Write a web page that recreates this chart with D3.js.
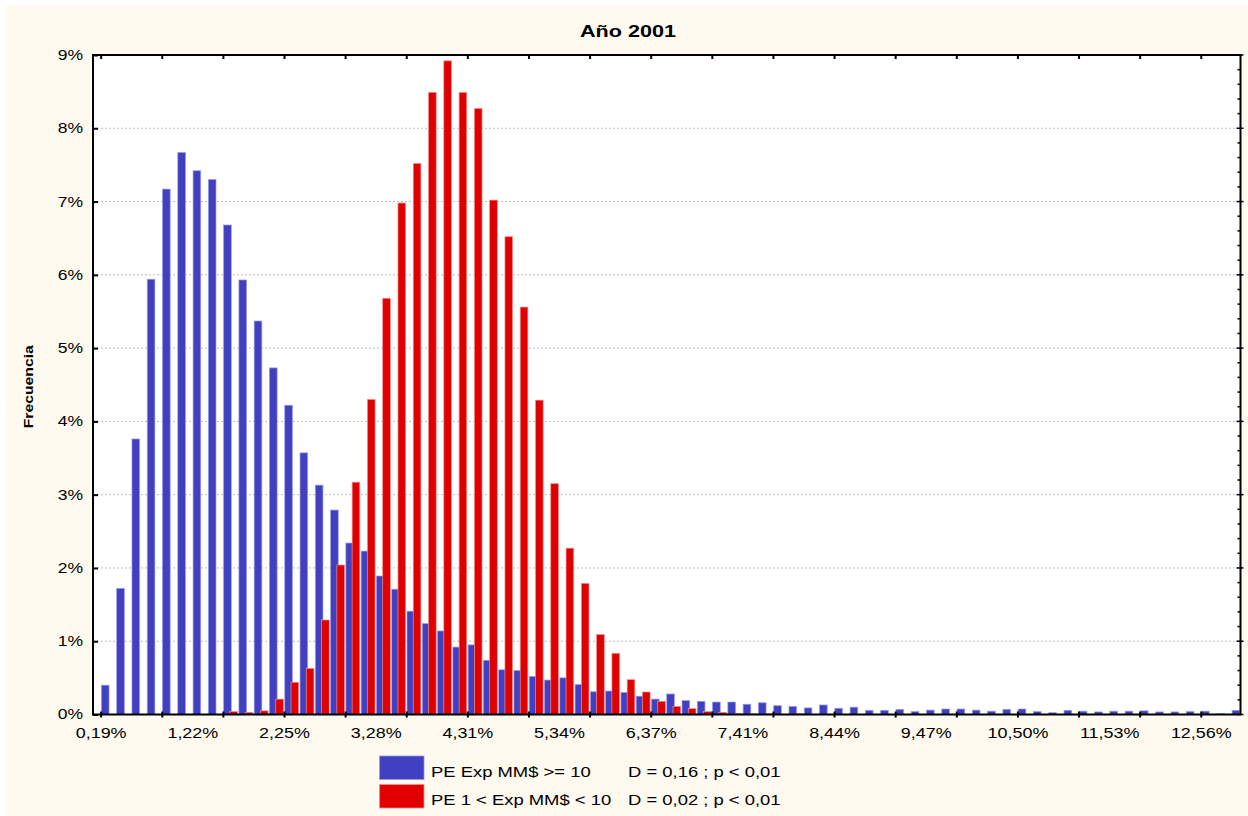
<!DOCTYPE html>
<html><head><meta charset="utf-8">
<script src="https://cdn.jsdelivr.net/npm/d3@7"></script>
<style>
html,body{margin:0;padding:0;background:#fff;}
svg{display:block;font-family:"Liberation Sans",Arial,sans-serif;}
</style></head>
<body>
<svg id="chart" width="1248" height="816"></svg>
<script>
const title = "Año 2001";
const yLabel = "Frecuencia";
const seriesNames = ["PE Exp MM$ >= 10", "PE 1 < Exp MM$ < 10"];
const seriesStats = ["D = 0,16 ; p < 0,01", "D = 0,02 ; p < 0,01"];
const xTickLabels = ["0,19%","1,22%","2,25%","3,28%","4,31%","5,34%","6,37%","7,41%","8,44%","9,47%","10,50%","11,53%","12,56%"];
const yTicks = [0,1,2,3,4,5,6,7,8,9];
// frequency (%) per bin, bins of ~0.1717% starting at 0,19%
const blueValues = [0.40,1.72,3.76,5.94,7.17,7.67,7.42,7.30,6.68,5.93,
  5.37,4.73,4.22,3.57,3.13,2.79,2.34,2.23,1.89,1.71,
  1.41,1.24,1.14,0.92,0.95,0.74,0.61,0.60,0.52,0.47,
  0.50,0.41,0.31,0.32,0.30,0.25,0.21,0.28,0.19,0.18,
  0.17,0.17,0.14,0.16,0.12,0.11,0.09,0.13,0.085,0.10,
  0.057,0.057,0.07,0.04,0.06,0.075,0.075,0.06,0.045,0.07,
  0.075,0.04,0.025,0.057,0.045,0.035,0.045,0.045,0.05,0.035,
  0.035,0.04,0.045,0.01,0.057];
const redValues = [0,0,0,0,0,0,0,0,0.04,0.03,
  0.05,0.21,0.44,0.63,1.29,2.04,3.17,4.30,5.68,6.98,
  7.52,8.49,8.92,8.49,8.27,7.02,6.52,5.56,4.29,3.15,
  2.27,1.79,1.09,0.835,0.475,0.307,0.18,0.11,0.08,0.04,
  0.03,0.015,0.01,0.01,0.005,0.01,0,0,0,0,
  0,0,0,0,0,0,0,0,0,0,
  0,0,0,0,0,0,0,0,0,0,
  0,0,0,0,0];
const colors = ["#4040c0", "#e00000"];
const strokes = ["#9a9ae6", "#f29090"];

const svg = d3.select("#chart");
svg.append("rect").attr("x",6).attr("y",6).attr("width",1242).attr("height",810).attr("fill","#fefaef");

const L = 93, R = 1240.5, T = 55, B = 714.5;
const nBins = blueValues.length;
const x = d3.scaleLinear().domain([-0.5, 74.6]).range([L, R]);
const y = d3.scaleLinear().domain([0, 9]).range([B, T]);
const bw = x(1) - x(0);

// widen text along its direction (reference glyphs are wider than Arial)
function stretch(sel, f) {
  sel.each(function(){
    const w = this.getComputedTextLength();
    d3.select(this).attr("textLength", w*f).attr("lengthAdjust","spacingAndGlyphs");
  });
}

svg.append("rect").attr("x",L).attr("y",T).attr("width",R-L).attr("height",B-T).attr("fill","#ffffff");

// grid
svg.append("g").selectAll("line").data(yTicks.filter(d=>d>0 && d<9)).join("line")
  .attr("x1",L).attr("x2",R).attr("y1",d=>y(d)).attr("y2",d=>y(d))
  .attr("stroke","#bdbdbd").attr("stroke-width",1).attr("stroke-dasharray","2,2");

svg.append("defs").append("clipPath").attr("id","clip").append("rect")
  .attr("x",L).attr("y",T).attr("width",R-L).attr("height",B-T);

const bars = svg.append("g").attr("clip-path","url(#clip)");
const idx = d3.range(nBins);
bars.append("g").selectAll("rect").data(idx.filter(i=>blueValues[i]>0)).join("rect")
  .attr("x",i=>x(i)+0.05*bw).attr("width",0.5*bw)
  .attr("y",i=>y(blueValues[i])).attr("height",i=>y(0)-y(blueValues[i]))
  .attr("fill",colors[0]).attr("stroke",strokes[0]).attr("stroke-width",0.7);
bars.append("g").selectAll("rect").data(idx.filter(i=>redValues[i]>0)).join("rect")
  .attr("x",i=>x(i)+0.46*bw).attr("width",0.5*bw)
  .attr("y",i=>y(redValues[i])).attr("height",i=>y(0)-y(redValues[i]))
  .attr("fill",colors[1]).attr("stroke",strokes[1]).attr("stroke-width",0.7);

// axes
const xTickIdx = d3.range(0, nBins, 4);
const xLabelIdx = xTickLabels.map((d,i)=>i*6);
const fmtX = i => xTickLabels[i/6];

const bottomAxis = svg.append("g").attr("transform",`translate(0,${B})`)
  .call(d3.axisBottom(x).tickValues(xTickIdx).tickSize(3).tickFormat(""));
const topAxis = svg.append("g").attr("transform",`translate(0,${T})`)
  .call(d3.axisBottom(x).tickValues(xTickIdx).tickSize(4).tickFormat(""));
const xLabels = svg.append("g").attr("transform",`translate(0,${B})`)
  .call(d3.axisBottom(x).tickValues(xLabelIdx).tickSize(0).tickPadding(14).tickFormat(fmtX))
  .call(g=>g.select(".domain").remove())
  .selectAll("text").attr("font-size",14).attr("fill","#000").attr("font-family","Liberation Sans, Arial, sans-serif");
stretch(xLabels, 1.28);
bottomAxis.selectAll(".tick line").attr("y1",-3).attr("y2",3).attr("stroke","#000").attr("stroke-width",2);

const leftAxis = svg.append("g").attr("transform",`translate(${L},0)`)
  .call(d3.axisLeft(y).tickValues(yTicks).tickSize(0).tickPadding(10).tickFormat(d=>d+"%"));
leftAxis.selectAll("text").attr("font-size",14).attr("fill","#000").attr("font-family","Liberation Sans, Arial, sans-serif");
stretch(leftAxis.selectAll("text"), 1.25);
leftAxis.selectAll(".tick line").attr("x1",0).attr("x2",5).attr("stroke","#000").attr("stroke-width",2);

const minorY = d3.range(0, 9.001, 0.2).map(v=>+v.toFixed(1));
svg.append("g").selectAll("line").data(minorY).join("line")
  .attr("x1",d=>Math.abs(d-Math.round(d))<1e-6 ? R-4 : R-3).attr("x2",d=>Math.abs(d-Math.round(d))<1e-6 ? R+3 : R)
  .attr("y1",d=>y(d)).attr("y2",d=>y(d)).attr("stroke","#000").attr("stroke-width",1.5);

topAxis.selectAll(".tick line").attr("stroke","#000").attr("stroke-width",2);
svg.selectAll(".domain").remove();

// frame
svg.append("rect").attr("x",L).attr("y",T).attr("width",R-L).attr("height",B-T)
  .attr("fill","none").attr("stroke","#000").attr("stroke-width",2);

// titles
const tt = svg.append("text").attr("x",628).attr("y",37).attr("text-anchor","middle")
  .attr("font-size",17).attr("font-weight","bold").text(title);
stretch(tt, 1.27);
const yl = svg.append("text").attr("transform",`translate(33,${(T+B)/2+2}) rotate(-90)`).attr("text-anchor","middle")
  .attr("font-size",13).attr("font-weight","bold").text(yLabel);
stretch(yl, 1.21);

// legend
const lg = svg.append("g");
seriesNames.forEach((name,i)=>{
  const yy = 756 + i*28.5;
  lg.append("rect").attr("x",379.5).attr("y",yy).attr("width",44.5).attr("height",23.5)
    .attr("fill",colors[i]).attr("stroke",strokes[i]).attr("stroke-width",0.8);
  stretch(lg.append("text").attr("x",431).attr("y",yy+20.5).attr("font-size",14.5).text(name), 1.27);
  stretch(lg.append("text").attr("x",628).attr("y",yy+20.5).attr("font-size",14.5).text(seriesStats[i]), 1.27);
});
</script>
</body></html>
